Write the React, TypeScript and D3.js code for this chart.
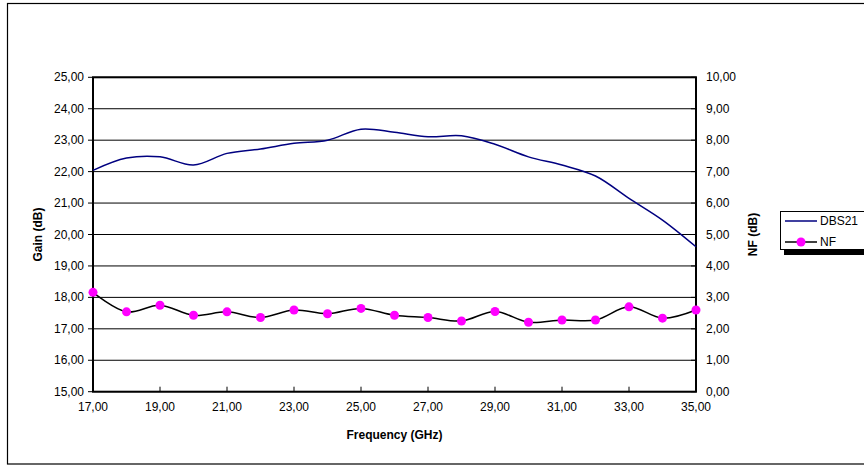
import * as d3 from "d3";

// frequency points (GHz)
const freqs = [17, 18, 19, 20, 21, 22, 23, 24, 25, 26, 27, 28, 29, 30, 31, 32, 33, 34, 35];
// gain DBS21 (dB), left axis
const gain = [22.04, 22.43, 22.47, 22.21, 22.58, 22.72, 22.9, 23.0, 23.35, 23.25, 23.11, 23.14, 22.87, 22.47, 22.21, 21.86, 21.15, 20.46, 19.61];
// noise figure (dB), right axis
const nf = [3.16, 2.54, 2.75, 2.43, 2.54, 2.36, 2.6, 2.48, 2.65, 2.43, 2.36, 2.25, 2.55, 2.21, 2.28, 2.28, 2.7, 2.34, 2.6];

const xTicks = [17, 19, 21, 23, 25, 27, 29, 31, 33, 35];
const gainTicks = [15, 16, 17, 18, 19, 20, 21, 22, 23, 24, 25];
const nfTicks = [0, 1, 2, 3, 4, 5, 6, 7, 8, 9, 10];

const W = 864;
const H = 466;
const font = "'Liberation Sans', Arial, sans-serif";
const fmt = (v: number) => v.toFixed(2).replace(".", ",");

export default function App() {
    const x = d3.scaleLinear().domain([17, 35]).range([93, 696]);
    const yL = d3.scaleLinear().domain([15, 25]).range([391.7, 77.3]);
    const yR = d3.scaleLinear().domain([0, 10]).range([391.7, 77.3]);

    const gainLine = d3.line<number>()
        .x((_, i) => x(freqs[i]))
        .y(d => yL(d))
        .curve(d3.curveCatmullRom.alpha(0.5));
    const nfLine = d3.line<number>()
        .x((_, i) => x(freqs[i]))
        .y(d => yR(d))
        .curve(d3.curveCatmullRom.alpha(0.5));

    const [x0, x1] = x.range();
    const [yb, yt] = yL.range();

    return <svg width={W} height={H} style={{position: "absolute", left: 0, top: 0, background: "#fff"}}
                fontFamily={font}>
        <rect x={0} y={0} width={W} height={H} fill="#fff"/>
        {/* chart area border */}
        <rect x={7.5} y={3.5} width={W + 10} height={460.5} fill="none" stroke="#000" strokeWidth={1.2}/>

        {/* gridlines */}
        {gainTicks.map(t => (
            <line key={"g" + t} x1={x0} x2={x1} y1={yL(t)} y2={yL(t)} stroke="#000" strokeWidth={1}/>
        ))}

        {/* left ticks + labels */}
        {gainTicks.map(t => (
            <g key={"l" + t}>
                <line x1={x0 - 5} x2={x0} y1={yL(t)} y2={yL(t)} stroke="#000"/>
                <text x={84} y={yL(t) + 4} fontSize={12} textAnchor="end">{fmt(t)}</text>
            </g>
        ))}
        {/* right labels */}
        {nfTicks.map(t => (
            <g key={"r" + t}>
                <line x1={x1} x2={x1 - 5} y1={yR(t)} y2={yR(t)} stroke="#000"/>
                <text x={706} y={yR(t) + 4} fontSize={12} textAnchor="start">{fmt(t)}</text>
            </g>
        ))}
        {/* x ticks + labels */}
        {xTicks.map(t => (
            <g key={"x" + t}>
                <line x1={x(t)} x2={x(t)} y1={yb} y2={yb - 5} stroke="#000"/>
                <text x={x(t)} y={411} fontSize={12} textAnchor="middle">{fmt(t)}</text>
            </g>
        ))}

        {/* plot frame */}
        <rect x={x0} y={yt} width={x1 - x0} height={yb - yt} fill="none" stroke="#000" strokeWidth={2}/>

        {/* series */}
        <path d={gainLine(gain) ?? ""} fill="none" stroke="#000080" strokeWidth={1.5}/>
        <path d={nfLine(nf) ?? ""} fill="none" stroke="#000" strokeWidth={1.5}/>
        {nf.map((v, i) => (
            <circle key={"m" + i} cx={x(freqs[i])} cy={yR(v)} r={4.5} fill="#ff00ff"/>
        ))}

        {/* axis titles */}
        <text x={(x0 + x1) / 2} y={439} fontSize={12} fontWeight="bold" textAnchor="middle">Frequency (GHz)</text>
        <text transform={`translate(42,${(yt + yb) / 2}) rotate(-90)`} fontSize={12} fontWeight="bold"
              textAnchor="middle">Gain (dB)</text>
        <text transform={`translate(757,${(yt + yb) / 2}) rotate(-90)`} fontSize={12} fontWeight="bold"
              textAnchor="middle">NF (dB)</text>

        {/* legend */}
        <rect x={784} y={217} width={90} height={38} fill="#000"/>
        <rect x={780.5} y={211.5} width={90} height={38} fill="#fff" stroke="#000" strokeWidth={1}/>
        <line x1={785} x2={817} y1={221} y2={221} stroke="#000080" strokeWidth={1.5}/>
        <text x={820} y={225} fontSize={12}>DBS21</text>
        <line x1={785} x2={817} y1={242} y2={242} stroke="#000" strokeWidth={1.5}/>
        <circle cx={801} cy={242} r={4.5} fill="#ff00ff"/>
        <text x={820} y={246} fontSize={12}>NF</text>
    </svg>;
}
